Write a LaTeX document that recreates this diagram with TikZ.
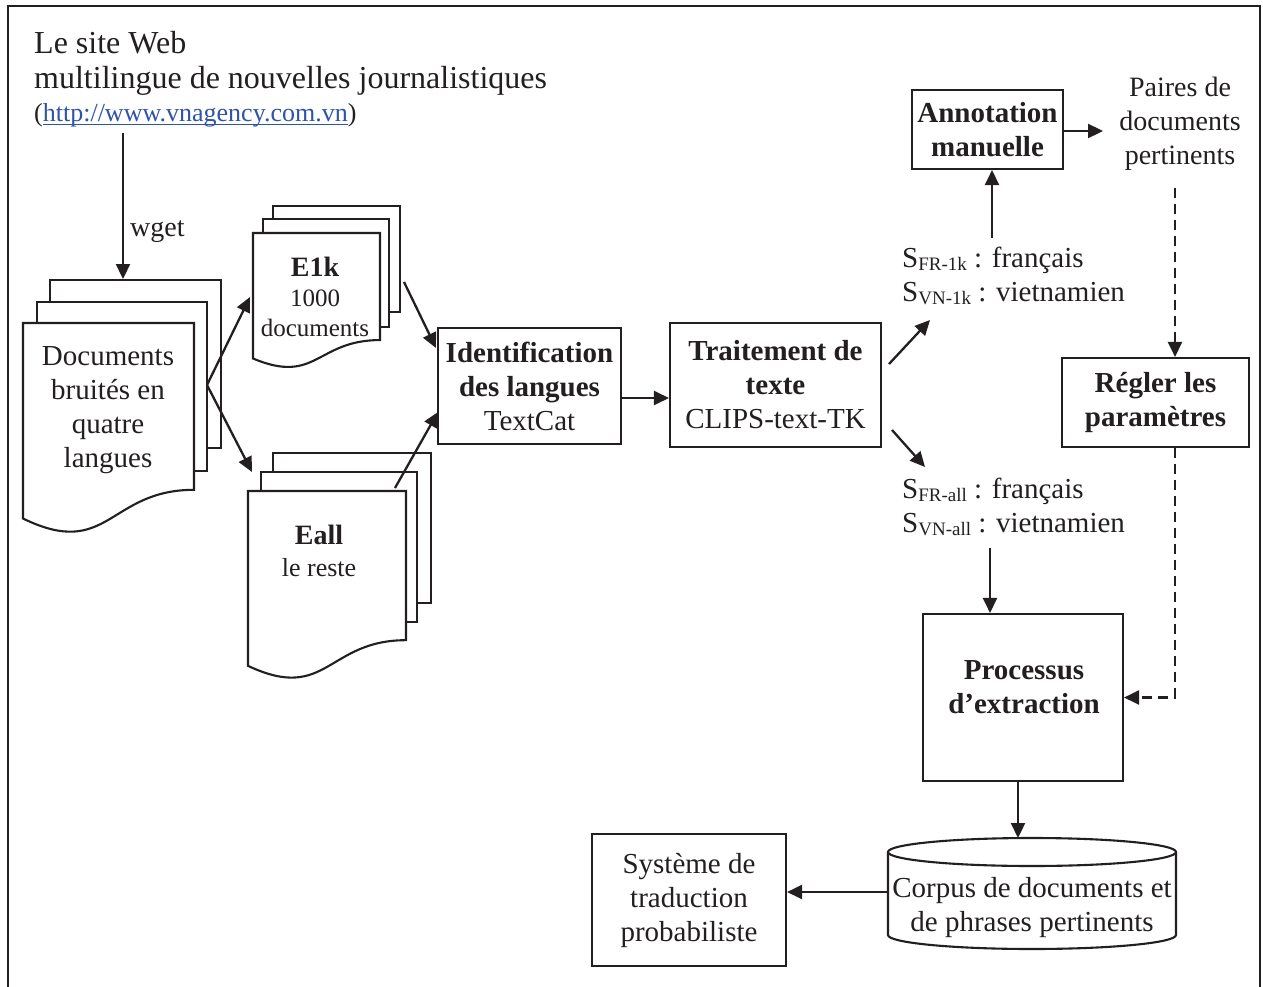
\documentclass[tikz,border=0pt]{standalone}
\usepackage{fontspec}
\setmainfont{Liberation Serif}
\usetikzlibrary{arrows.meta,calc}
\definecolor{ink}{RGB}{35,31,32}
\definecolor{urlblue}{RGB}{46,84,168}

% front sheet of a document stack: top-left corner, width, height
\newcommand{\docpage}[4]{%
  \filldraw[page] (#1,#2) -- ({#1+#3},#2) -- ({#1+#3},{#2+0.802*#4})
    .. controls ({#1+0.5*#3},{#2+0.802*#4}) and ({#1+0.5*#3},{#2+1.14*#4}) .. (#1,{#2+0.94*#4}) -- cycle;}
% sheet behind the front one: two opposite corners
\newcommand{\backsheet}[4]{\filldraw[page] (#1,#2) rectangle (#3,#4);}
\newcommand{\setfs}[2]{\fontsize{#1}{#2}\selectfont}
\newcommand{\lowsub}[1]{\raisebox{-3pt}{\setfs{19}{19}#1}}
% link text underlined just below the baseline
\newcommand{\linkline}[1]{\setbox0\hbox{#1}\rlap{\rule[-3pt]{\wd0}{1.2pt}}\box0}

\begin{document}
\begin{tikzpicture}[x=1pt,y=-1pt,
  page/.style={draw=ink,fill=white,line width=2.1pt},
  box/.style={draw=ink,fill=white,line width=2.1pt,align=center,text=ink,
    font=\setfs{29}{34},inner sep=0pt},
  txt/.style={align=center,text=ink,font=\setfs{29}{34},inner sep=0pt},
  arr/.style={draw=ink,line width=2.3pt,-{Triangle[length=15pt,width=14pt]}},
  darr/.style={arr,dash pattern=on 10pt off 6pt}]

\useasboundingbox (0,0) rectangle (1263,987);
\fill[white] (0,0) rectangle (1263,987);

% outer frame
\draw[ink,line width=1.8pt] (8,987) -- (8,6) -- (1260,6) -- (1260,987);

% source web site
\node[txt,anchor=base west,font=\setfs{32}{37}] (site1) at (34,54) {Le site Web};
\node[txt,anchor=base west,font=\setfs{32}{37}] (site2) at (34,89) {multilingue de nouvelles journalistiques};
\node[txt,anchor=base west,font=\setfs{26}{30}] (url) at (34,122)
  {(\textcolor{urlblue}{\linkline{http://www.vnagency.com.vn}})};

% document stacks
\backsheet{50}{280}{221}{448}
\backsheet{37}{302}{207}{471}
\docpage{23}{323}{171}{208}
\node[txt] (docs) at (108,410) {Documents\\bruités en\\quatre\\langues};

\backsheet{273}{206}{400}{312}
\backsheet{263}{219}{389}{327}
\docpage{253}{233}{127}{133.5}
\node[txt,font=\setfs{25}{30}] (e1k) at (315,297) {{\setfs{28}{30}\textbf{E1k}}\\1000\\documents};

\backsheet{273}{453}{431}{603}
\backsheet{261}{472}{417}{622}
\docpage{248}{491}{158}{186}
\node[txt,font=\setfs{26}{32}] (eall) at (319,551) {{\setfs{28}{32}\textbf{Eall}}\\le reste};

% processing boxes
\node[box,minimum width=183pt,minimum height=116pt] (ident) at (529.5,386)
  {\textbf{Identification}\\\textbf{des langues}\\TextCat};
\node[box,minimum width=211pt,minimum height=124pt] (trait) at (775.5,385)
  {\textbf{Traitement de}\\\textbf{texte}\\CLIPS-text-TK};
\node[box,minimum width=151pt,minimum height=79pt] (annot) at (987.5,129.5)
  {\textbf{Annotation}\\\textbf{manuelle}};
\node[txt,font=\setfs{28}{34}] (paires) at (1180,124) {Paires de\\documents\\pertinents};
\node[box,minimum width=187pt,minimum height=89pt] (regler) at (1155.5,402.5)
  {\textbf{Régler les}\\\textbf{paramètres}};
\node[box,minimum width=200pt,minimum height=167pt] (proc) at (1023,697.5) {};
\node[txt] (proctxt) at (1024,687) {\textbf{Processus}\\\textbf{d’extraction}};
\node[box,minimum width=194pt,minimum height=132pt] (sys) at (689,900)
  {Système de\\traduction\\probabiliste};

% sentence sets
\node[txt,align=left,anchor=west] (s1k) at (902,276)
  {S\lowsub{FR-1k} : français\\S\lowsub{VN-1k} : vietnamien};
\node[txt,align=left,anchor=west] (sall) at (902,507)
  {S\lowsub{FR-all} : français\\S\lowsub{VN-all} : vietnamien};

% corpus cylinder
\filldraw[page] (888,852) -- (888,935) arc[start angle=180,end angle=0,x radius=144,y radius=14] -- (1176,852);
\filldraw[page] (1032,852) ellipse [x radius=144,y radius=14];
\node[txt,minimum width=288pt,minimum height=111pt] (corpus) at (1032,908)
  {Corpus de documents et\\de phrases pertinents};

% connector end points
\coordinate (wgetfrom) at (123,133);
\coordinate (wgetto) at (123,279);
\coordinate (fork) at (207,385);
\coordinate (e1kin) at (250,297);
\coordinate (eallin) at (252,472);
\coordinate (e1kout) at (404,282);
\coordinate (identa) at (436,348);
\coordinate (eallout) at (395,488);
\coordinate (identb) at (438,412);
\coordinate (row) at (0,398);
\coordinate (traitup) at (889,364);
\coordinate (s1kin) at (930,320);
\coordinate (traitdown) at (892,430);
\coordinate (sallin) at (925,467);
\coordinate (s1kout) at (992,238);
\coordinate (sallout) at (990,548);
\coordinate (pairesin) at (1103,131);
\coordinate (dashtop) at (1175,188);

\node[txt,anchor=west,font=\setfs{28}{32}] (wget) at (130,232) {wget};

% connectors
\draw[arr] (wgetfrom) -- (wgetto);
\draw[arr] (fork) -- (e1kin);
\draw[arr] (fork) -- (eallin);
\draw[arr] (e1kout) -- (identa);
\draw[arr] (eallout) -- (identb);
\draw[arr] (ident.east |- row) -- (trait.west |- row);
\draw[arr] (traitup) -- (s1kin);
\draw[arr] (traitdown) -- (sallin);
\draw[arr] (s1kout) -- (annot.south -| s1kout);
\draw[arr] (annot.east |- pairesin) -- (pairesin);
\draw[darr] (dashtop) -- (regler.north -| dashtop);
\draw[darr] (regler.south -| dashtop) |- (proc.east);
\draw[arr] (sallout) -- (proc.north -| sallout);
\draw[arr] ([xshift=-5pt]proc.south) -- (1018,838);
\draw[arr] (888,892) -- (sys.east |- 0,892);
\end{tikzpicture}
\end{document}
